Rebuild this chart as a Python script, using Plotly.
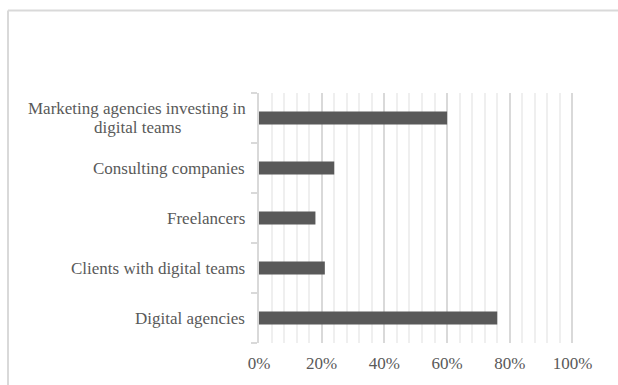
import plotly.graph_objects as go

# Data, listed bottom to top as they appear on the category axis
categories = [
    "Digital agencies",
    "Clients with digital teams",
    "Freelancers",
    "Consulting companies",
    "Marketing agencies investing in digital teams",
]
axis_labels = [
    "Digital agencies",
    "Clients with digital teams",
    "Freelancers",
    "Consulting companies",
    "Marketing agencies investing in<br>digital teams",
]
shares = [0.76, 0.21, 0.18, 0.24, 0.60]
x_ticks = [0, 0.2, 0.4, 0.6, 0.8, 1.0]

W, H = 618, 385
X_MAX = 1.008                 # a little headroom so the 100% gridline shows
L, T, B = 259, 92.7, 42
R = W - L - 313.5 * X_MAX     # 0..100% spans 313.5 px
plot_w = W - L - R
plot_h = H - T - B

FONT = "Liberation Serif, Times New Roman, serif"
TEXT = "#595959"
GRID = "#d9d9d9"
MINOR = "#efefef"
LINE_STEP = 19       # px between lines of a wrapped category label
LABEL_RIGHT = 246.7  # px, right edge of the category labels
WRAP_CENTRE = 137    # px, centre line of a wrapped label block

fig = go.Figure(
    go.Bar(
        x=shares,
        y=categories,
        orientation="h",
        marker=dict(color="#595959", line=dict(width=0)),
        width=0.26,
        hoverinfo="skip",
    )
)

fig.update_xaxes(
    range=[0, X_MAX],
    tickvals=x_ticks,
    tickformat=".0%",
    showgrid=True,
    gridcolor=GRID,
    gridwidth=1.5,
    zeroline=False,
    showline=False,
    ticks="",
    ticklabelstandoff=8,
    tickfont=dict(family=FONT, size=17, color=TEXT),
    minor=dict(dtick=0.04, tick0=0, showgrid=True, gridcolor=MINOR, gridwidth=1.5),
    fixedrange=True,
)
fig.update_yaxes(
    categoryorder="array",
    categoryarray=categories,
    range=[-0.5, len(categories) - 0.5],
    showticklabels=False,
    showgrid=False,
    zeroline=False,
    showline=True,
    linecolor=GRID,
    linewidth=1.5,
    ticks="outside",
    tickson="boundaries",
    ticklen=6,
    tickwidth=1.5,
    tickcolor=GRID,
    fixedrange=True,
)

# Category labels left of the axis; wrapped labels have their lines centred
for cat, lab in zip(categories, axis_labels):
    lines = lab.split("<br>")
    n = len(lines)
    for i, line in enumerate(lines):
        if n == 1:
            px, anchor = LABEL_RIGHT, "right"
        else:
            px, anchor = WRAP_CENTRE, "center"
        fig.add_annotation(
            x=(px - L) / plot_w, xref="paper", y=cat, yref="y",
            text=line, showarrow=False,
            xanchor=anchor, yanchor="middle",
            yshift=((n - 1) / 2 - i) * LINE_STEP,
            font=dict(family=FONT, size=17, color=TEXT),
        )

# Chart-area frame (left and top edges)
fx = (8 - L) / plot_w
fy_top = 1 + (T - 10) / plot_h
fy_bot = -(B + 5) / plot_h
fig.add_shape(type="line", xref="paper", yref="paper",
              x0=fx, x1=fx, y0=fy_bot, y1=fy_top,
              line=dict(color=GRID, width=2))
fig.add_shape(type="line", xref="paper", yref="paper",
              x0=fx, x1=(W + 5 - L) / plot_w, y0=fy_top, y1=fy_top,
              line=dict(color=GRID, width=2))

fig.update_layout(
    width=W, height=H,
    margin=dict(l=L, r=R, t=T, b=B),
    paper_bgcolor="white",
    plot_bgcolor="white",
    showlegend=False,
    bargap=0.74,
)

fig.write_html("out.html", config={"displayModeBar": False})
